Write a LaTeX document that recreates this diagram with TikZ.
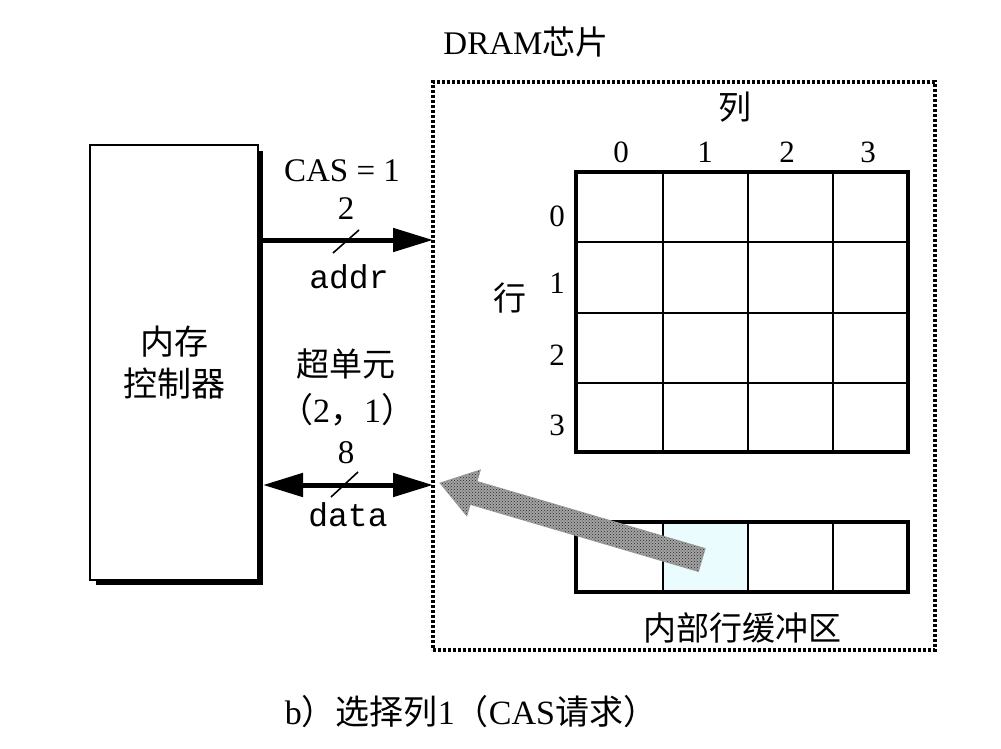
\documentclass[tikz,border=0pt]{standalone}
\usepackage{fontspec}
\setmainfont{Liberation Serif}
\setmonofont{Liberation Mono}
\newfontfamily\cjk{Noto Sans CJK SC}
\usetikzlibrary{arrows.meta,patterns}
\tikzset{bigtip/.tip={Triangle[length=40pt,width=23pt]}}
\begin{document}
\begin{tikzpicture}[x=1pt,y=-1pt,
  lat/.style={font=\fontsize{33}{36}\selectfont, inner sep=0pt},
  dig/.style={font=\fontsize{31}{34}\selectfont, inner sep=0pt},
  zh/.style={font=\cjk\fontsize{33}{40}\selectfont, inner sep=0pt, align=center},
  mono/.style={font=\ttfamily\fontsize{33}{36}\selectfont, inner sep=0pt},
  bus/.style={line width=5pt},
  slash/.style={line width=1.6pt},
  thin/.style={line width=1.3pt},
  thick/.style={line width=4pt},
  dots/.style={line width=3.4pt, dash pattern=on 3pt off 2pt}
]
\useasboundingbox[fill=white] (0,0) rectangle (1001,749);

% memory controller with shadow
\fill (96,151) rectangle (263,585);
\node[draw, fill=white, line width=1.3pt, minimum width=168pt, minimum height=435pt, inner sep=0pt,
      zh, font=\cjk\fontsize{34}{42}\selectfont] (mc) at (174,362.5) {内存\\控制器};

% DRAM chip (dotted)
\node[draw, dots, minimum width=502pt, minimum height=568pt, inner sep=0pt] (dram) at (684,366) {};
\node[inner sep=0pt] (dramlbl) at (526,42) {{\fontsize{33}{36}\selectfont DRAM}{\cjk\fontsize{33}{36}\selectfont 芯片}};

% address bus
\coordinate (a1) at (263,240);
\coordinate (a2) at (433,240);
\draw[bus, -{bigtip}] (a1) -- (a2);
\draw[slash] (333,253) -- (359,230);
\node[lat] (cas) at (342,171) {CAS = 1};
\node[lat] (two) at (346,209) {2};
\node[mono] (addr) at (349,277) {addr};

% data bus
\coordinate (d1) at (263,485);
\coordinate (d2) at (433,485);
\draw[bus, {bigtip}-{bigtip}] (d1) -- (d2);
\draw[slash] (331,497) -- (358,472);
\node[zh] (super) at (346,364) {超单元};
\node[inner sep=0pt] (coord) at (347,410) {{\cjk\fontsize{34}{36}\selectfont （}{\fontsize{34}{36}\selectfont 2}{\cjk\fontsize{34}{36}\selectfont ，}{\fontsize{34}{36}\selectfont 1}{\cjk\fontsize{34}{36}\selectfont ）}};
\node[lat] (eight) at (346,453) {8};
\node[mono] (data) at (348,515) {data};

% DRAM array
\draw[thin] (663,172) -- (663,452) (748,172) -- (748,452) (833,172) -- (833,452);
\draw[thin] (576,242) -- (908,242) (576,313) -- (908,313) (576,383) -- (908,383);
\node[draw, thick, minimum width=332pt, minimum height=280pt, inner sep=0pt] (array) at (742,312) {};

\node[zh] (collbl) at (735,107) {列};
\node[dig] (c0) at (621,152) {0};
\node[dig] (c1) at (705,152) {1};
\node[dig] (c2) at (787,152) {2};
\node[dig] (c3) at (868,152) {3};
\node[zh] (rowlbl) at (510,298) {行};
\node[dig] (r0) at (557,216) {0};
\node[dig] (r1) at (557,283) {1};
\node[dig] (r2) at (557,355) {2};
\node[dig] (r3) at (557,425) {3};

% row buffer
\fill[blue!12!cyan!8] (663,522) rectangle (748,592);
\draw[thin] (663,522) -- (663,592) (748,522) -- (748,592) (833,522) -- (833,592);
\node[draw, thick, minimum width=332pt, minimum height=70pt, inner sep=0pt] (buf) at (742,557) {};
\node[zh] (buflbl) at (742,628) {内部行缓冲区};

% big grey arrow from buffer cell to data bus
\def\bigarrow{(440,483) -- (480.4,469.9) -- (477.0,481.4) -- (705.2,548.5) -- (698.4,571.5) -- (470.2,504.4) -- (466.8,515.9) -- cycle}
\fill[gray!72] \bigarrow;
\fill[pattern=crosshatch dots, pattern color=black!85] \bigarrow;
\draw[gray!80, line width=0.8pt] \bigarrow;

% caption
\node[inner sep=0pt] (cap) at (471,712) {{\fontsize{34}{36}\selectfont b}{\cjk\fontsize{34}{36}\selectfont ）选择列}{\fontsize{34}{36}\selectfont 1}{\cjk\fontsize{34}{36}\selectfont （}{\fontsize{34}{36}\selectfont CAS}{\cjk\fontsize{34}{36}\selectfont 请求）}};
\end{tikzpicture}
\end{document}
